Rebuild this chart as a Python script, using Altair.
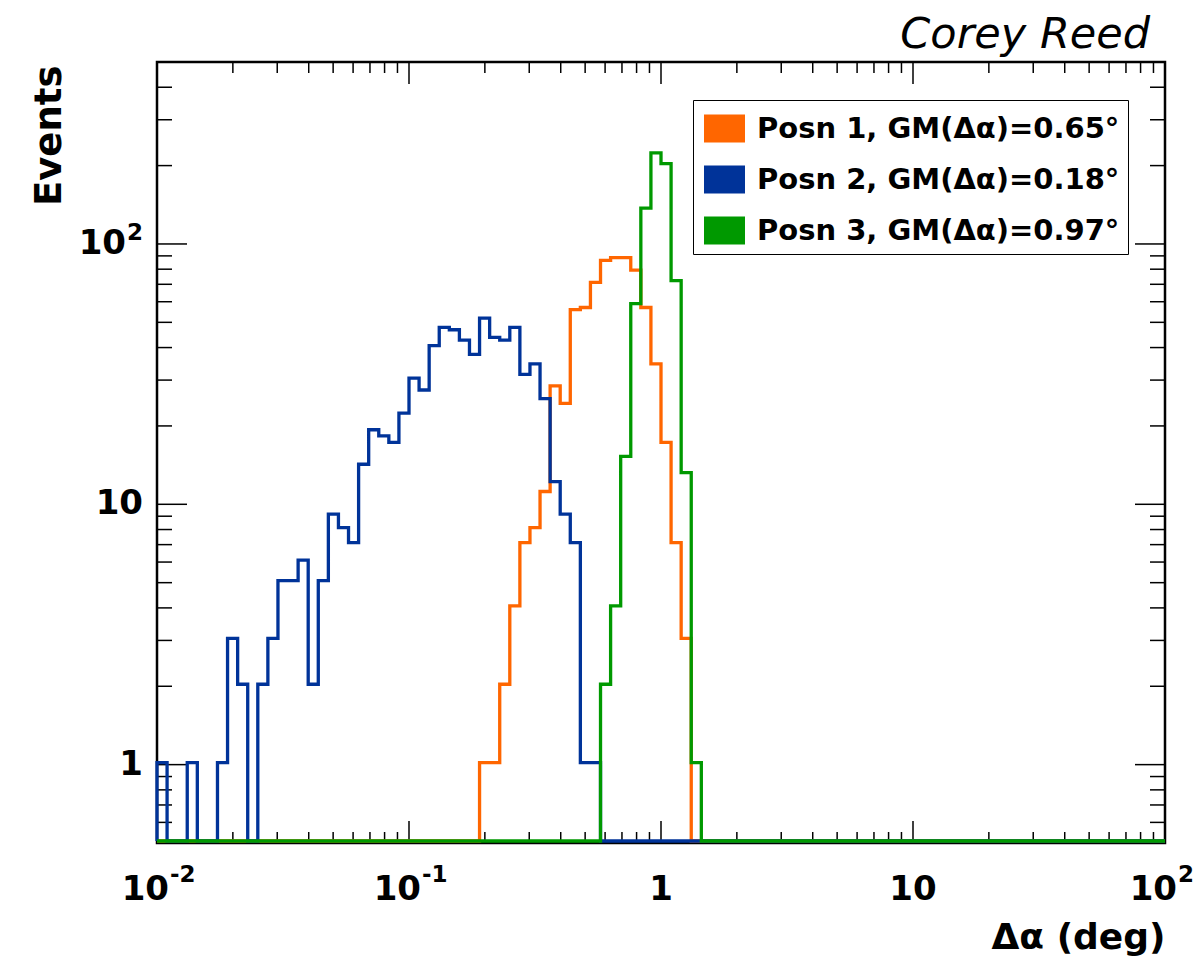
import altair as alt
import numpy as np
import pandas as pd

# ---------------- data ----------------
SERIES = ["Posn 1, GM(Δα)=0.65°", "Posn 2, GM(Δα)=0.18°", "Posn 3, GM(Δα)=0.97°"]
COLORS = ["#ff6600", "#003399", "#009900"]
AUTHOR = "Corey Reed"

# histogram: 100 log-spaced bins from 10^-2 to 10^2
LOG_MIN, LOG_MAX, NBINS = -2, 2, 100

# first non-empty bin index and bin contents from there on
POSN1_FIRST = 32
POSN1 = [1, 1, 2, 4, 7, 8, 11, 28, 24, 55, 56, 70, 85, 87, 87, 78, 56, 34, 17, 7, 3]
POSN2_FIRST = 0
POSN2 = [1, 0, 0, 1, 0, 0, 1, 3, 2, 0, 2, 3, 5, 5, 6, 2, 5, 9, 8, 7,
         14, 19, 18, 17, 22, 30, 27, 40, 47, 46, 42, 37, 51, 43, 42, 47, 31, 34, 25, 12,
         9, 7, 1, 1]
POSN3_FIRST = 44
POSN3 = [2, 4, 15, 58, 135, 220, 200, 71, 13, 1]

Y_DOMAIN = [0.5, 500]
X_DOMAIN = [0.01, 100]

X_MAJOR = [0.01, 0.1, 1, 10, 100]
X_LABEL_BASE = ["10", "10", "1", "10", "10"]
X_LABEL_EXP = ["-2", "-1", "", "", "2"]
X_MINOR = [m * d for d in [0.01, 0.1, 1, 10] for m in [2, 3, 4, 5, 6, 7, 8, 9]]
Y_MAJOR = [1, 10, 100]
Y_LABEL_BASE = ["1", "10", "10"]
Y_LABEL_EXP = ["", "", "2"]
Y_MINOR = [0.6, 0.7, 0.8, 0.9] + [2, 3, 4, 5, 6, 7, 8, 9] + [20, 30, 40, 50, 60, 70, 80, 90] + [200, 300, 400]

# ---------------- build table ----------------
edges = 10.0 ** np.linspace(LOG_MIN, LOG_MAX, NBINS + 1)
rows = []
for name, first, counts in [(SERIES[0], POSN1_FIRST, POSN1),
                            (SERIES[1], POSN2_FIRST, POSN2),
                            (SERIES[2], POSN3_FIRST, POSN3)]:
    full = np.zeros(NBINS)
    full[first:first + len(counts)] = counts
    rows.append(dict(series=name, idx=0, x=edges[0], n=0.0))
    for k in range(NBINS):
        rows.append(dict(series=name, idx=k + 1, x=edges[k], n=full[k]))
    rows.append(dict(series=name, idx=NBINS + 1, x=edges[-1], n=full[-1]))
df = pd.DataFrame(rows)
df["y"] = np.maximum(df["n"], Y_DOMAIN[0])

W, H = 1008, 781
FONT = "DejaVu Sans"

xscale = alt.Scale(type="log", domain=X_DOMAIN, nice=False)
yscale = alt.Scale(type="log", domain=Y_DOMAIN, nice=False)

x_axis = alt.Axis(values=X_MAJOR, labels=False, ticks=False, domain=False, grid=False,
                  title="Δα (deg)", titleFont=FONT, titleFontWeight="bold",
                  titleFontSize=36, titleColor="black", titleAnchor="end",
                  titleAlign="right", titleBaseline="alphabetic",
                  titleX=W, titleY=105)
y_axis = alt.Axis(values=Y_MAJOR, labels=False, ticks=False, domain=False, grid=False,
                  title="Events", titleFont=FONT, titleFontWeight="bold",
                  titleFontSize=37, titleColor="black", titleAngle=270,
                  titleAlign="right", titleBaseline="alphabetic",
                  titleX=-97, titleY=3)

legend = alt.Legend(title=None, orient="none", legendX=536, legendY=38,
                    direction="vertical",
                    symbolType="M-1,-0.68L1,-0.68L1,0.68L-1,0.68Z",
                    symbolSize=1681, symbolStrokeWidth=0, symbolOffset=3,
                    labelFont=FONT, labelFontWeight="bold", labelFontSize=29,
                    labelColor="black", labelOffset=12, labelLimit=0,
                    padding=8, rowPadding=15, strokeColor="black",
                    fillColor="white", cornerRadius=0)

cscale = alt.Scale(domain=SERIES, range=COLORS)


def xticks(vals, length, top):
    y = alt.value(0) if top else alt.value(H)
    y2 = alt.value(length) if top else alt.value(H - length)
    return alt.Chart(pd.DataFrame({"v": vals})).mark_rule(
        color="black", strokeWidth=1.5).encode(
        x=alt.X("v:Q", scale=xscale, axis=x_axis), y=y, y2=y2)


def yticks(vals, length, right):
    x = alt.value(W) if right else alt.value(0)
    x2 = alt.value(W - length) if right else alt.value(length)
    return alt.Chart(pd.DataFrame({"v": vals})).mark_rule(
        color="black", strokeWidth=1.5).encode(
        y=alt.Y("v:Q", scale=yscale, axis=y_axis), x=x, x2=x2)


tick_layers = [
    xticks(X_MAJOR, 22, False), xticks(X_MINOR, 11, False),
    xticks(X_MAJOR, 22, True), xticks(X_MINOR, 11, True),
    yticks(Y_MAJOR, 30, False), yticks(Y_MINOR, 15, False),
    yticks(Y_MAJOR, 30, True), yticks(Y_MINOR, 15, True),
]

# ---- tick labels (base + superscript exponent, ROOT style) ----
xl = pd.DataFrame({"v": X_MAJOR, "base": X_LABEL_BASE, "exp": X_LABEL_EXP})
yl = pd.DataFrame({"v": Y_MAJOR, "base": Y_LABEL_BASE, "exp": Y_LABEL_EXP})
lab_style = dict(font=FONT, fontWeight="bold", color="black")

xlab_plain = alt.Chart(xl).transform_filter("datum.exp == ''").mark_text(
    align="center", baseline="alphabetic", fontSize=34, **lab_style).encode(
    x=alt.X("v:Q", scale=xscale, axis=x_axis), y=alt.value(H + 57), text="base:N")
xlab_base = alt.Chart(xl).transform_filter("datum.exp != ''").mark_text(
    align="right", baseline="alphabetic", fontSize=34, dx=12, **lab_style).encode(
    x=alt.X("v:Q", scale=xscale, axis=x_axis), y=alt.value(H + 57), text="base:N")
xlab_exp = alt.Chart(xl).transform_filter("datum.exp != ''").mark_text(
    align="left", baseline="alphabetic", fontSize=23, dx=13, **lab_style).encode(
    x=alt.X("v:Q", scale=xscale, axis=x_axis), y=alt.value(H + 39), text="exp:N")

ylab_plain = alt.Chart(yl).transform_filter("datum.exp == ''").mark_text(
    align="right", baseline="middle", fontSize=34, **lab_style).encode(
    y=alt.Y("v:Q", scale=yscale, axis=y_axis), x=alt.value(-14), text="base:N")
ylab_base = alt.Chart(yl).transform_filter("datum.exp != ''").mark_text(
    align="right", baseline="middle", fontSize=34, **lab_style).encode(
    y=alt.Y("v:Q", scale=yscale, axis=y_axis), x=alt.value(-31), text="base:N")
ylab_exp = alt.Chart(yl).transform_filter("datum.exp != ''").mark_text(
    align="left", baseline="middle", fontSize=23, dy=-11, **lab_style).encode(
    y=alt.Y("v:Q", scale=yscale, axis=y_axis), x=alt.value(-30), text="exp:N")

label_layers = [xlab_plain, xlab_base, xlab_exp, ylab_plain, ylab_base, ylab_exp]

# ---- legend source: filled squares (no rows pass the filter, only the legend shows) ----
legend_layer = alt.Chart(df).transform_filter("datum.idx < 0").mark_square(
    filled=True, opacity=1).encode(
    x=alt.X("x:Q", scale=xscale, axis=x_axis),
    y=alt.Y("y:Q", scale=yscale, axis=y_axis),
    color=alt.Color("series:N", scale=cscale, legend=legend),
)

hist_layers = []
for name in SERIES:
    hist_layers.append(
        alt.Chart(df).transform_filter(alt.datum.series == name).mark_line(
            interpolate="step-after", strokeWidth=3.3, yOffset=-2).encode(
            x=alt.X("x:Q", scale=xscale, axis=x_axis),
            y=alt.Y("y:Q", scale=yscale, axis=y_axis),
            color=alt.Color("series:N", scale=cscale, legend=None),
            order=alt.Order("idx:Q"),
        )
    )

author = alt.Chart(pd.DataFrame({"t": [AUTHOR]})).mark_text(
    align="right", baseline="alphabetic", font=FONT, fontSize=43,
    fontStyle="italic", fontWeight="normal", color="black").encode(
    text="t:N", x=alt.value(W - 15), y=alt.value(-14))

chart = alt.layer(*tick_layers, *label_layers, legend_layer, *hist_layers, author).properties(
    width=W, height=H,
    padding={"left": 157, "top": 62, "right": 36, "bottom": 116},
    autosize=alt.AutoSizeParams(type="none"),
    background="white",
).configure_view(stroke="black", strokeWidth=2.5)

chart.save("out.html", embed_options={"renderer": "svg", "actions": False})
